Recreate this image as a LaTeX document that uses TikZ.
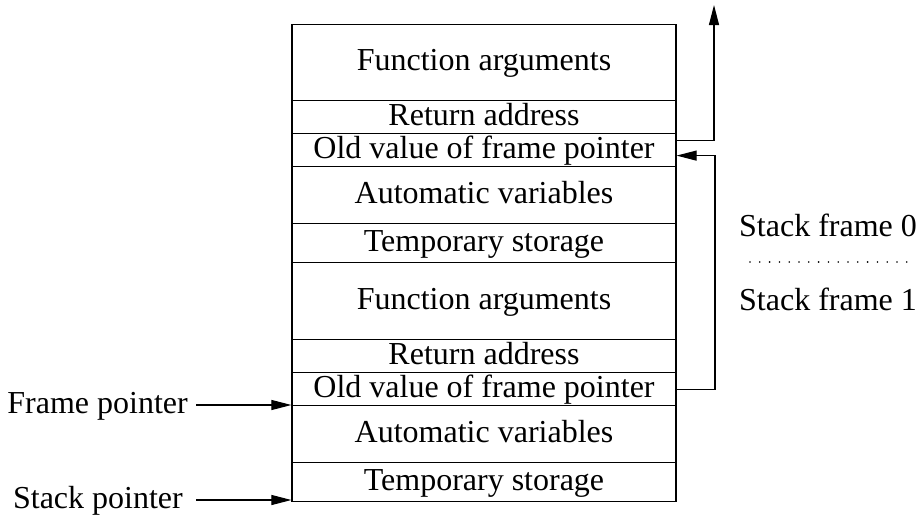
\documentclass[tikz,border=0pt]{standalone}
\usepackage{fontspec}
\setmainfont{Liberation Serif}
\usetikzlibrary{arrows.meta}

\begin{document}
\begin{tikzpicture}[x=1pt, y=-1pt,
  font=\fontsize{32pt}{38pt}\selectfont,
  slot/.style={draw, line width=1.2pt, minimum width=384pt, inner sep=0pt,
               text height=22pt, text depth=6pt, anchor=north},
  caption/.style={inner sep=0pt, text height=22pt, text depth=6pt},
  ptr/.style={line width=1.1pt, -{Triangle[length=20pt,width=10pt]}}]

  \useasboundingbox (0,0) rectangle (919,515);

  % stack frame 0
  \node[slot, minimum height=76pt] (fa0) at (484,24)  {Function arguments};
  \node[slot, minimum height=33pt] (ra0) at (484,100) {Return address};
  \node[slot, minimum height=33pt] (ov0) at (484,133) {Old value of frame pointer};
  \node[slot, minimum height=57pt] (av0) at (484,166) {Automatic variables};
  \node[slot, minimum height=39pt] (ts0) at (484,223) {Temporary storage};
  % stack frame 1
  \node[slot, minimum height=77pt] (fa1) at (484,262) {Function arguments};
  \node[slot, minimum height=33pt] (ra1) at (484,339) {Return address};
  \node[slot, minimum height=33pt] (ov1) at (484,372) {Old value of frame pointer};
  \node[slot, minimum height=57pt] (av1) at (484,405) {Automatic variables};
  \node[slot, minimum height=39pt] (ts1) at (484,462) {Temporary storage};

  % pointers on the left
  \node[caption, anchor=east] (fp) at (188,405) {Frame pointer};
  \node[caption, anchor=east] (sp) at (183,500) {Stack pointer};
  \draw[ptr] ([xshift=8pt]fp.east) -- (fp.east -| ov1.south west);
  \draw[ptr] ([xshift=13pt]sp.east) -- (sp.east -| ts1.south west);

  % chain of saved frame pointers
  \coordinate (out0) at ([yshift=9.5pt]ov0.east);
  \coordinate (in0)  at ([yshift=-5.5pt]ov0.east);
  \coordinate (up)   at (714,5);
  \coordinate (rail) at (715,0);
  \draw[ptr] (out0) -| (up);
  \draw[ptr] (ov1.east) -- (ov1.east -| rail) -- (in0 -| rail) -- (in0);

  % frame labels
  \node[caption] (sf0) at (828,228) {Stack frame 0};
  \node[caption] (sf1) at (828,302) {Stack frame 1};
  \coordinate (dl) at (750,262);
  \coordinate (dr) at (907,262);
  \draw[line width=1.8pt, line cap=round, dash pattern=on 0pt off 9.8pt] (dl) -- (dr);
\end{tikzpicture}
\end{document}
